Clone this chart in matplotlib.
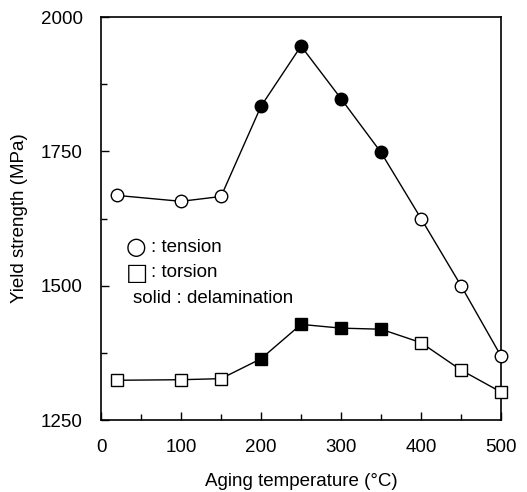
import matplotlib
matplotlib.use("Agg")
import matplotlib.pyplot as plt
from matplotlib.ticker import MultipleLocator

plt.rcParams['font.family'] = ['Liberation Sans', 'DejaVu Sans']

temps = [20, 100, 150, 200, 250, 300, 350, 400, 450, 500]
tension = [1668, 1657, 1666, 1834, 1946, 1848, 1748, 1625, 1500, 1369]
tension_delam = [False, False, False, True, True, True, True, False, False, False]
torsion = [1324, 1325, 1327, 1364, 1428, 1421, 1419, 1394, 1343, 1302]
torsion_delam = [False, False, False, True, True, True, True, False, False, False]

x_ticks = [0, 100, 200, 300, 400, 500]
y_ticks = [1250, 1500, 1750, 2000]

fig = plt.figure(figsize=(5.27, 4.92), dpi=100)
ax = fig.add_axes([0.1917, 0.1463, 0.759, 0.8191])

def draw(y, filled, marker):
    ax.plot(temps, y, color='black', lw=1.0, zorder=2)
    for xi, yi, f in zip(temps, y, filled):
        ax.plot([xi], [yi], marker=marker, ms=9 if marker == 'o' else 8.5,
                mfc='black' if f else 'white', mec='black', mew=1.0,
                linestyle='none', zorder=3, clip_on=False)

draw(tension, tension_delam, 'o')
draw(torsion, torsion_delam, 's')

fs = 13.5
ax.set_xlim(0, 500)
ax.set_ylim(1250, 2000)
ax.set_xticks(x_ticks)
ax.set_yticks(y_ticks)
ax.xaxis.set_minor_locator(MultipleLocator(50))
ax.yaxis.set_minor_locator(MultipleLocator(125))
ax.tick_params(which='major', direction='in', length=6, width=1.0, labelsize=fs)
ax.tick_params(which='minor', direction='in', length=4, width=1.0)
ax.tick_params(axis='x', which='major', pad=14)
ax.tick_params(axis='y', which='major', pad=13)
for s in ax.spines.values():
    s.set_linewidth(1.2)

ax.set_xlabel('Aging temperature (°C)', fontsize=fs, labelpad=12)
ax.set_ylabel('Yield strength (MPa)', fontsize=fs, labelpad=9)

ax.text(0.062, 0.429, '○', transform=ax.transAxes, fontsize=17, va='center', ha='left',
        family=['DejaVu Sans'])
ax.text(0.126, 0.429, ': tension', transform=ax.transAxes, fontsize=fs, va='center', ha='left')
ax.text(0.062, 0.365, '□', transform=ax.transAxes, fontsize=17, va='center', ha='left',
        family=['DejaVu Sans'])
ax.text(0.126, 0.365, ': torsion', transform=ax.transAxes, fontsize=fs, va='center', ha='left')
ax.text(0.079, 0.302, 'solid : delamination', transform=ax.transAxes, fontsize=fs,
        va='center', ha='left')

fig.savefig('out.png', dpi=100)
